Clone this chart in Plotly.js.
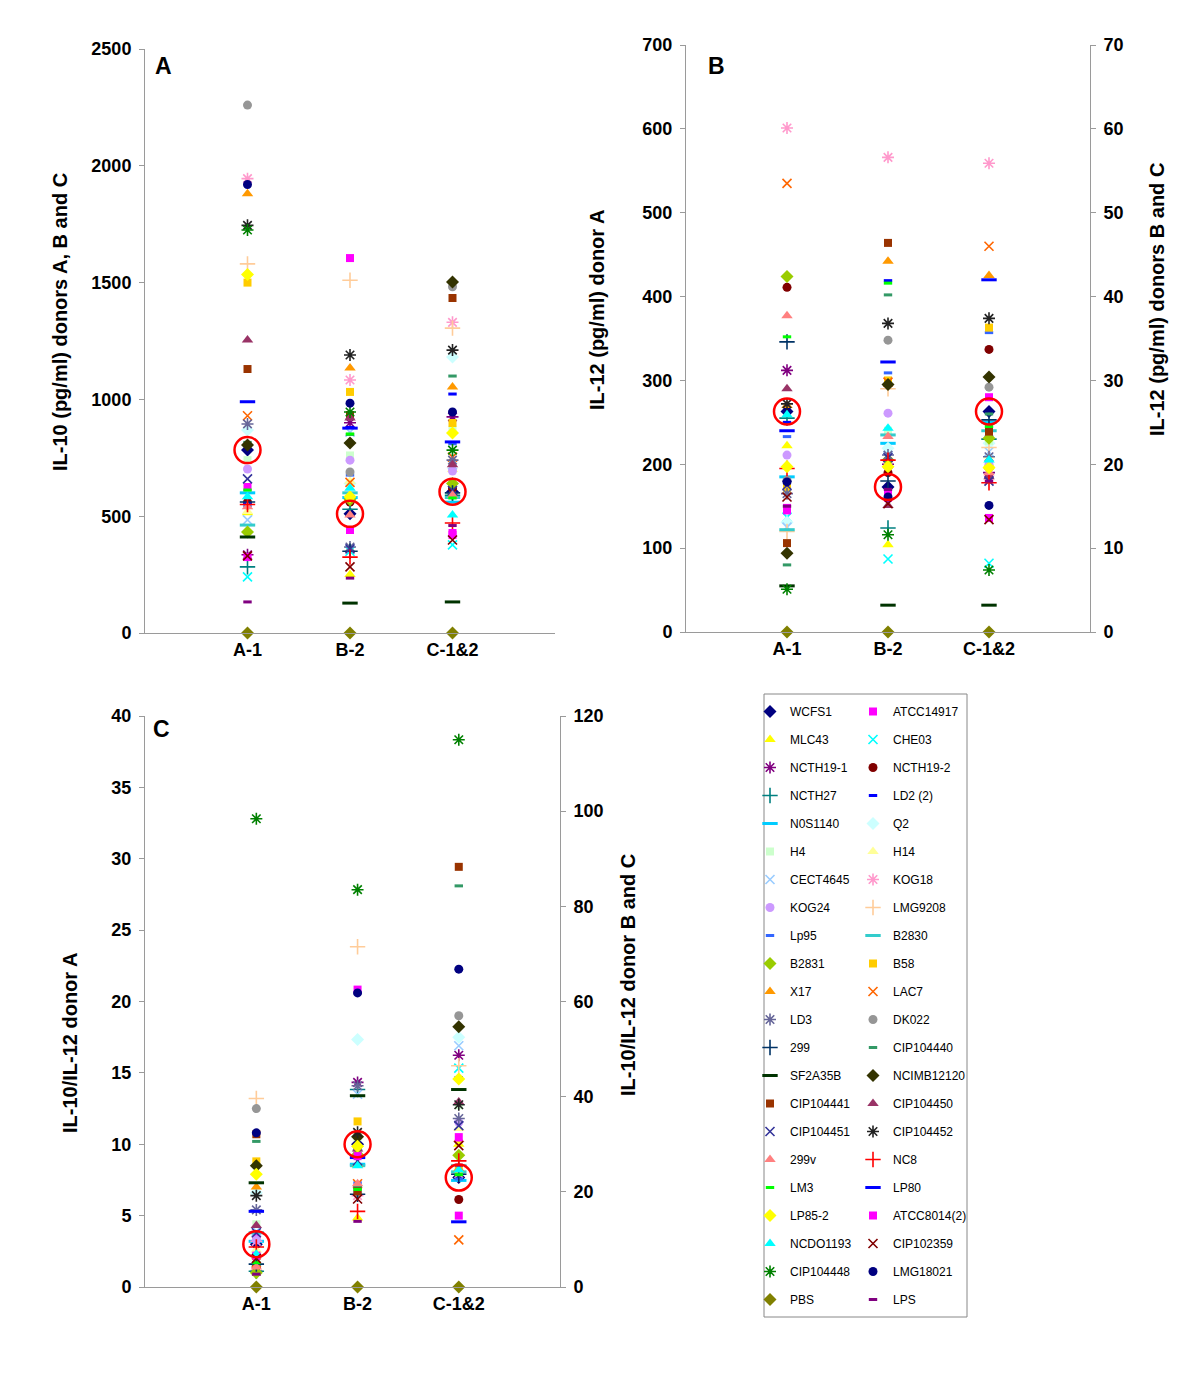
<!DOCTYPE html>
<html>
<head>
<meta charset="utf-8">
<script src="https://cdn.plot.ly/plotly-3.0.1.min.js"></script>
<style>html,body{margin:0;padding:0;background:#fff;}</style>
</head>
<body>
<div id="chart" style="width:1200px;height:1377px;"></div>
<script>
// ---------------- DATA ----------------
const categories = ['A-1', 'B-2', 'C-1&2'];

const strains = ['WCFS1','ATCC14917','MLC43','CHE03','NCTH19-1','NCTH19-2','NCTH27','LD2 (2)','N0S1140','Q2',
  'H4','H14','CECT4645','KOG18','KOG24','LMG9208','Lp95','B2830','B2831','B58',
  'X17','LAC7','LD3','DK022','299','CIP104440','SF2A35B','NCIMB12120','CIP104441','CIP104450',
  'CIP104451','CIP104452','299v','NC8','LM3','LP80','LP85-2','ATCC8014(2)','NCDO1193','CIP102359',
  'CIP104448','LMG18021','PBS','LPS'];

// Panel A: IL-10 (pg/ml)
const il10_A1  = [783,625,515,240,335,560,283,555,600,869, 740,520,484,1945,702,1580,545,462,432,1500, 1880,930,895,2260,561,816,411,805,1130,1254, 660,1745,540,550,612,990,1535,325,583,330, 1725,1920,0,133];
const il10_B2  = [510,1605,250,350,900,560,530,880,580,640, 760,650,860,1083,740,1510,676,600,570,1032, 1134,645,368,689,350,850,128,813,933,920, 360,1190,505,325,852,877,583,441,620,283, 946,984,0,235];
const il10_C12 = [605,420,600,377,925,620,590,1023,560,1182, 870,700,720,1330,693,1305,810,580,640,899, 1053,753,740,1482,600,1100,133,1503,1434,720, 610,1211,590,471,578,818,856,428,505,398, 783,946,0,460];

// Panel B: IL-12 (pg/ml); donor A on left axis, donors B and C on right axis
const il12_A1  = [263,148,222,137,312,411,255,250,185,131, 170,200,125,601,211,120,233,122,424,172, 270,535,165,181,346,80,55,94,106,290, 175,272,377,195,352,240,197,145,259,161, 51,179,0,150];
const il12_B2  = [17.3,16.7,10.4,8.7,20.0,19.0,12.4,41.9,22.5,21.9, 24.0,20.0,21.0,56.6,26.1,29.0,30.9,23.5,20.5,30.0, 44.2,29.8,21.1,34.8,18.0,40.2,3.2,29.5,46.4,15.1, 20.8,36.8,23.3,20.5,41.6,32.2,19.7,16.0,24.3,15.3, 11.6,16.1,0,17.0];
const il12_C12 = [26.3,28.0,20.0,8.2,19.0,33.7,23.0,23.3,25.0,22.5, 22.8,21.0,21.5,55.9,20.0,22.0,35.7,24.0,23.1,36.3, 42.5,46.0,20.9,29.2,25.3,26.0,3.2,30.4,23.9,18.5, 18.0,37.4,19.0,17.8,24.5,42.0,19.6,13.6,20.5,13.4, 7.4,15.1,0,18.0];

// Panel C: IL-10/IL-12; donor A on left axis, donors B and C on right axis
const ratio_A1  = [3.0,3.5,2.3,1.8,1.1,1.4,1.1,2.2,3.2,6.6, 4.4,2.6,3.9,3.2,3.3,13.2,2.3,3.8,1.0,8.8, 7.0,1.7,5.4,12.5,1.6,10.2,7.3,8.5,10.7,4.3, 3.8,6.4,1.4,2.8,1.7,5.3,7.9,2.2,2.3,2.0, 32.8,10.8,0,0.9];
const ratio_B2  = [30.0,62.5,14.5,28.0,43.0,29.5,41.5,21.0,25.8,52.0, 31.5,32.0,40.5,19.2,28.4,71.5,21.9,25.5,27.8,34.8, 25.7,21.7,42.3,19.8,19.5,21.1,40.2,31.6,20.1,29.0, 26.5,32.5,21.7,15.9,20.5,27.2,29.6,27.5,25.5,18.5, 83.5,61.8,0,13.8];
const ratio_C12 = [23.0,15.0,30.0,46.0,48.7,18.4,25.6,44.0,22.4,52.5, 38.2,33.3,50.7,23.8,34.6,46.5,22.7,24.2,27.7,24.8, 24.8,9.9,35.4,57.0,23.7,84.3,41.5,54.7,88.3,38.9, 33.9,38.3,31.0,26.5,23.6,13.7,43.7,31.5,24.6,29.7, 115.0,66.8,0,25.6];

const highlightStrain = 'WCFS1';

// ---------------- STYLE ----------------
const colors = ['#000080','#FF00FF','#FFFF00','#00FFFF','#800080','#800000','#008080','#0000FF','#00CCFF','#CCFFFF',
  '#CCFFCC','#FFFF99','#99CCFF','#FF99CC','#CC99FF','#FFCC99','#3366FF','#33CCCC','#99CC00','#FFCC00',
  '#FF9900','#FF6600','#666699','#969696','#003366','#339966','#003300','#333300','#993300','#993366',
  '#333399','#222222','#FF8080','#FF0000','#00FF00','#0000FF','#FFFF00','#FF00FF','#00FFFF','#800000',
  '#008000','#000080','#808000','#800080'];
const shapes = ['diamond','square','triangle','x','star','circle','plus','sdash','ldash','diamond',
  'square','triangle','x','star','circle','plus','sdash','ldash','diamond','square',
  'triangle','x','star','circle','plus','sdash','ldash','diamond','square','triangle',
  'x','star','triangle','plus','sdash','ldash','diamond','square','triangle','x',
  'star','circle','diamond','sdash'];

function markerFor(shape, color) {
  switch (shape) {
    case 'diamond':  return {symbol:'diamond', size:10, color:color, line:{width:0}};
    case 'square':   return {symbol:'square', size:8, color:color, line:{width:0}};
    case 'triangle': return {symbol:'triangle-up', size:10, color:color, line:{width:0}};
    case 'circle':   return {symbol:'circle', size:9, color:color, line:{width:0}};
    case 'x':        return {symbol:'x-thin-open', size:9, color:color, line:{color:color, width:1.6}};
    case 'star':     return {symbol:'asterisk-open', size:10, color:color, line:{color:color, width:1.6}};
    case 'plus':     return {symbol:'cross-thin-open', size:11, color:color, line:{color:color, width:1.6}};
    case 'sdash':    return {symbol:'line-ew-open', size:6, color:color, line:{color:color, width:3}};
    case 'ldash':    return {symbol:'line-ew-open', size:11, color:color, line:{color:color, width:3}};
  }
}

const FONT = 'Liberation Sans, Arial, sans-serif';
const AXC = '#9a9a9a';

const traces = [];
strains.forEach((name, i) => {
  const m = markerFor(shapes[i], colors[i]);
  const leg = (i % 2 === 0) ? 'legend' : 'legend2';
  const base = {type:'scatter', mode:'markers', marker:m, name:name, legendgroup:name, legend:leg, cliponaxis:false, hoverinfo:'name+y'};
  // Panel A
  traces.push(Object.assign({}, base, {x:categories, y:[il10_A1[i], il10_B2[i], il10_C12[i]], xaxis:'x', yaxis:'y', showlegend:true}));
  // Panel B
  traces.push(Object.assign({}, base, {x:[categories[0]], y:[il12_A1[i]], xaxis:'x2', yaxis:'y2', showlegend:false}));
  traces.push(Object.assign({}, base, {x:[categories[1], categories[2]], y:[il12_B2[i], il12_C12[i]], xaxis:'x2', yaxis:'y3', showlegend:false}));
  // Panel C
  traces.push(Object.assign({}, base, {x:[categories[0]], y:[ratio_A1[i]], xaxis:'x3', yaxis:'y4', showlegend:false}));
  traces.push(Object.assign({}, base, {x:[categories[1], categories[2]], y:[ratio_B2[i], ratio_C12[i]], xaxis:'x3', yaxis:'y5', showlegend:false}));
});

// red highlight circles around the reference strain
const h = strains.indexOf(highlightStrain);
const ring = {type:'scatter', mode:'markers', showlegend:false, hoverinfo:'skip', cliponaxis:false,
  marker:{symbol:'circle-open', size:26, color:'#FF0000', line:{color:'#FF0000', width:2.5}}};
traces.push(Object.assign({}, ring, {x:categories, y:[il10_A1[h], il10_B2[h], il10_C12[h]], xaxis:'x', yaxis:'y'}));
traces.push(Object.assign({}, ring, {x:[categories[0]], y:[il12_A1[h]], xaxis:'x2', yaxis:'y2'}));
traces.push(Object.assign({}, ring, {x:[categories[1], categories[2]], y:[il12_B2[h], il12_C12[h]], xaxis:'x2', yaxis:'y3'}));
traces.push(Object.assign({}, ring, {x:[categories[0]], y:[ratio_A1[h]], xaxis:'x3', yaxis:'y4'}));
traces.push(Object.assign({}, ring, {x:[categories[1], categories[2]], y:[ratio_B2[h], ratio_C12[h]], xaxis:'x3', yaxis:'y5'}));

// ---------------- LAYOUT ----------------
const W = 1200, H = 1377;
const px = v => v / W;
const py = v => 1 - v / H;
const tickFont = {family:FONT, size:18, color:'#000', weight:700};

function xAx(dom, anchor, r0) {
  return {domain:dom, anchor:anchor, type:'category', categoryorder:'array', categoryarray:categories,
    range:[r0, 3], showline:true, linecolor:AXC, linewidth:1, ticks:'', showgrid:false, zeroline:false,
    tickfont:tickFont, fixedrange:true};
}
function yAx(dom, anchor, max, dtick, extra) {
  return Object.assign({domain:dom, anchor:anchor, range:[0, max], dtick:dtick, showline:true, linecolor:AXC,
    linewidth:1, ticks:'outside', ticklen:5, tickcolor:AXC, showgrid:false, zeroline:false,
    tickfont:tickFont, ticklabelstandoff:4, fixedrange:true}, extra || {});
}

const titleFont = {family:FONT, size:20, color:'#000', weight:700};
function vTitle(text, x, y) {
  return {text:text, x:px(x), y:py(y), xref:'paper', yref:'paper', showarrow:false, textangle:-90,
    xanchor:'center', yanchor:'middle', font:titleFont};
}
function pLabel(text, x, y) {
  return {text:text, x:px(x), y:py(y), xref:'paper', yref:'paper', showarrow:false,
    xanchor:'center', yanchor:'middle', font:{family:FONT, size:23, color:'#000', weight:700}};
}

const legFont = {family:FONT, size:12, color:'#000'};
const layout = {
  width:W, height:H, margin:{l:0, r:0, t:0, b:0},
  paper_bgcolor:'#fff', plot_bgcolor:'rgba(0,0,0,0)',
  showlegend:true, hovermode:'closest',
  xaxis: xAx([px(145), px(555)], 'y', -1),
  yaxis: yAx([py(633), py(49)], 'x', 2500, 500),
  xaxis2: xAx([px(686), px(1090)], 'y2', -1),
  yaxis2: yAx([py(632), py(45)], 'x2', 700, 100),
  yaxis3: yAx([py(632), py(45)], 'x2', 70, 10, {overlaying:'y2', side:'right'}),
  xaxis3: xAx([px(145), px(560)], 'y4', -1.1),
  yaxis4: yAx([py(1287), py(716)], 'x3', 40, 5),
  yaxis5: yAx([py(1287), py(716)], 'x3', 120, 20, {overlaying:'y4', side:'right'}),
  legend: {x:px(750), y:py(697), xanchor:'left', yanchor:'top', bgcolor:'rgba(0,0,0,0)', borderwidth:0,
    font:legFont, traceorder:'grouped', tracegroupgap:9, orientation:'v'},
  legend2: {x:px(853), y:py(697), xanchor:'left', yanchor:'top', bgcolor:'rgba(0,0,0,0)', borderwidth:0,
    font:legFont, traceorder:'grouped', tracegroupgap:9, orientation:'v'},
  shapes: [
    {type:'rect', xref:'paper', yref:'paper', x0:px(764), x1:px(967), y0:py(1317), y1:py(694),
     line:{color:'#888', width:1}, fillcolor:'rgba(0,0,0,0)'}
  ],
  annotations: [
    pLabel('A', 163, 66), pLabel('B', 716, 66), pLabel('C', 161, 729),
    vTitle('IL-10 (pg/ml) donors A, B and C', 60, 322),
    vTitle('IL-12 (pg/ml) donor A', 597, 310),
    vTitle('IL-12 (pg/ml) donors B and C', 1157, 300),
    vTitle('IL-10/IL-12 donor A', 70, 1043),
    vTitle('IL-10/IL-12 donor B and C', 628, 975)
  ]
};

Plotly.newPlot('chart', traces, layout, {displayModeBar:false, staticPlot:false});
</script>
</body>
</html>
